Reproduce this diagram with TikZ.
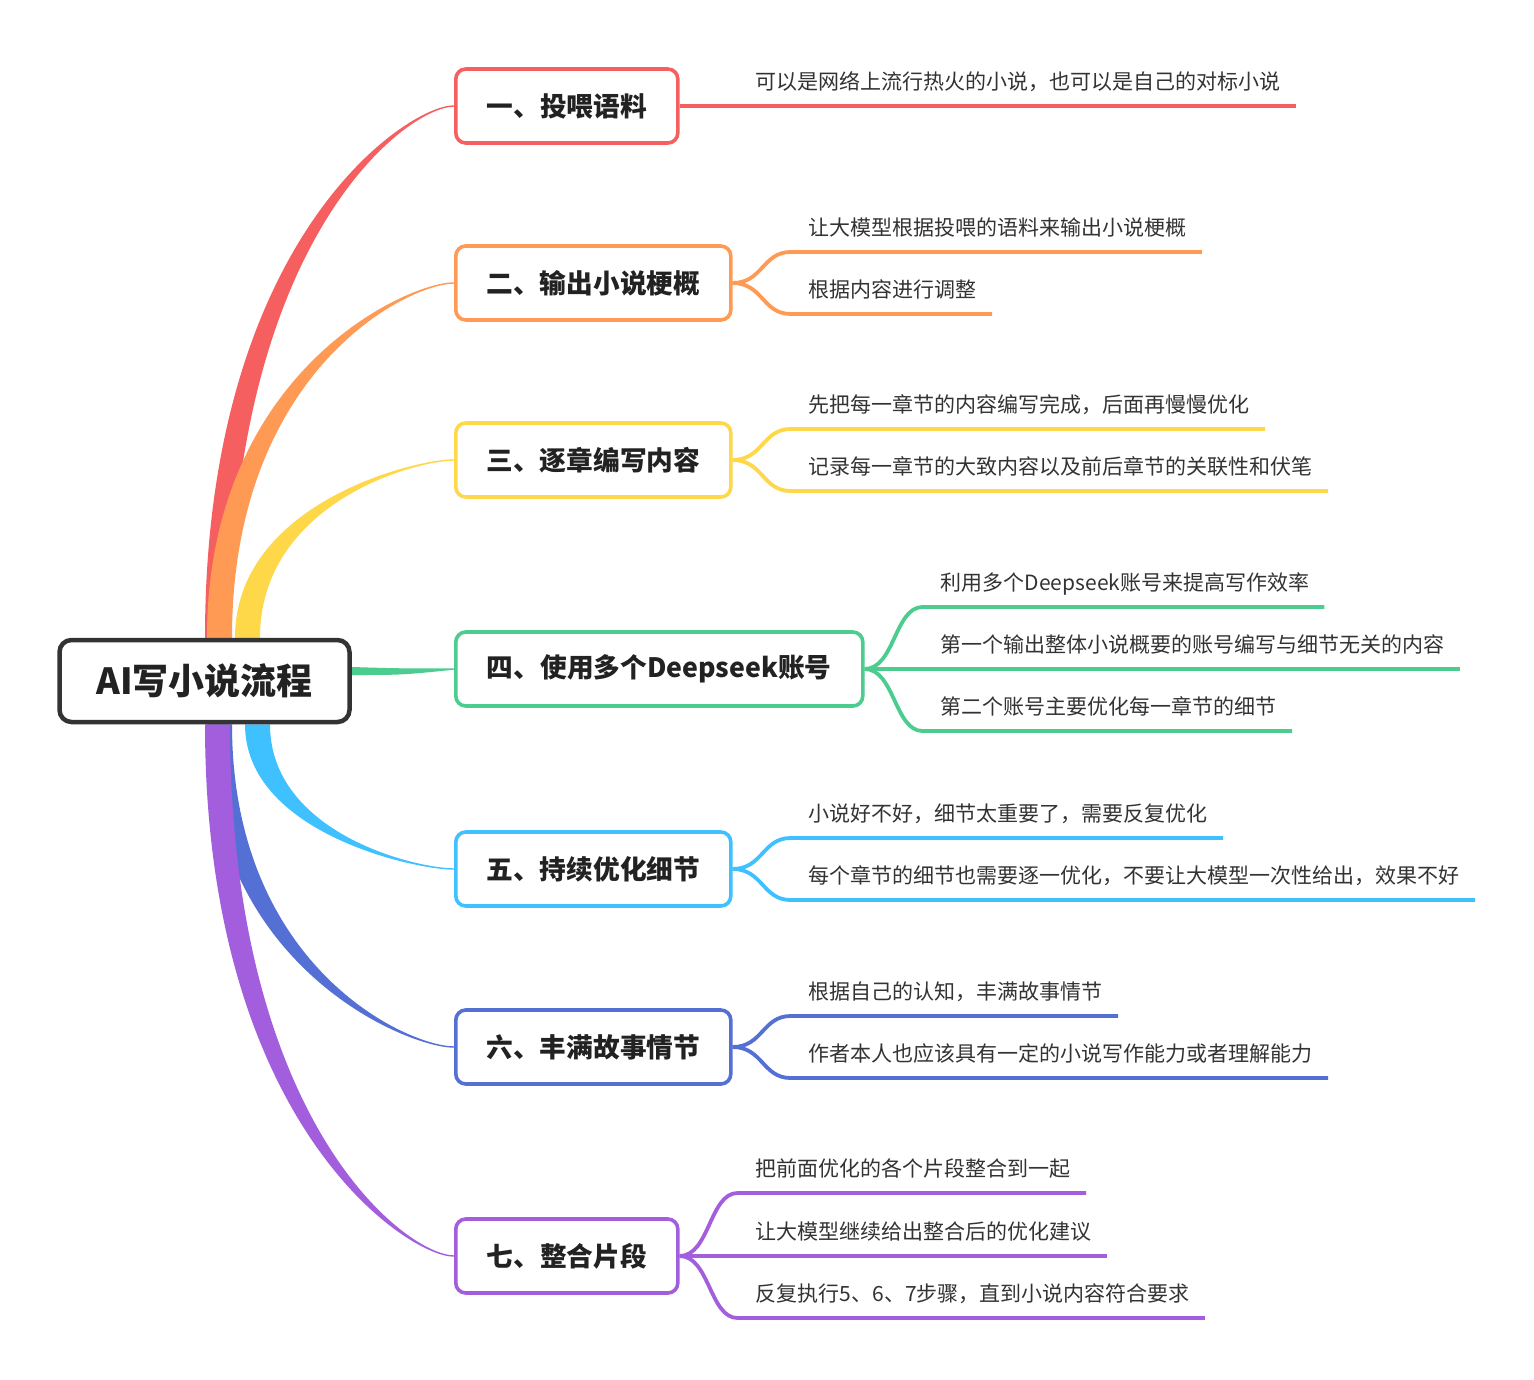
\documentclass[tikz,border=0pt]{standalone}
\usepackage{fontspec}
\setmainfont{Noto Sans CJK SC}
\usetikzlibrary{calc}
\pgfdeclarelayer{bottom}
\pgfdeclarelayer{branches}
\pgfsetlayers{bottom,branches,main}
\definecolor{cred}{HTML}{F65F60}
\definecolor{corange}{HTML}{FF9A55}
\definecolor{cyellow}{HTML}{FFD84A}
\definecolor{cgreen}{HTML}{4CCC8E}
\definecolor{clblue}{HTML}{40C1FF}
\definecolor{cdblue}{HTML}{5570D5}
\definecolor{cpurple}{HTML}{A25EDC}
\definecolor{textdark}{HTML}{222222}
\definecolor{textsub}{HTML}{333333}
\definecolor{rootline}{HTML}{333333}
% tapered branch from a base coordinate to a tip coordinate
\newcommand\taper[4]{%
  \fill[#1] let \p0=(#2), \p1=(#3), \n1={\x1-\x0}, \n2={\y1-\y0}, \n3={sign(\n2)*0.7} in
    (\x0-#4,\y0) .. controls (\x0-#4,\y0+0.75*\n2) and (\x1-0.2*\n1,\y1+\n3) .. (\x1,\y1+\n3)
    -- (\x1,\y1-\n3) .. controls (\x1-0.2*\n1,\y1-\n3) and (\x0+#4,\y0+0.75*\n2) .. (\x0+#4,\y0) -- cycle;}
% sub branch: colour, box node, vertical offset, text, name
\newcommand\subbranch[5]{%
  \coordinate (#5s) at ($(#2.east)+(58,#3)$);
  \node[subtext] (#5) at ($(#2.east)+(76,#3+16.5)$) {#4};
  \draw[subline=#1] (#2.east) .. controls +(30,0) and +(-28,0) .. (#5s) -- ($(#5s -| #5.east)+(15,0)$);}
\begin{document}
\begin{tikzpicture}[x=1pt,y=1pt,
  rootbox/.style={draw=rootline, line width=4.5pt, rounded corners=12pt, fill=white,
    minimum width=290pt, minimum height=82pt, inner sep=0pt,
    font=\fontsize{36}{40}\selectfont\bfseries, text=textdark},
  hbox/.style={draw=#1, line width=3.6pt, rounded corners=10pt, fill=white,
    minimum height=74pt, inner sep=0pt, anchor=west,
    font=\fontsize{26.7}{30}\selectfont\bfseries, text=textdark},
  subtext/.style={font=\fontsize{21}{24}\selectfont, text=textsub, inner sep=0pt, anchor=base west},
  subline/.style={draw=#1, line width=3.8pt}
]
\useasboundingbox (3,0) rectangle (1537,-1379);
\begin{pgfonlayer}{bottom}
\fill[white] (3,0) rectangle (1537,-1379);
\end{pgfonlayer}

\node[rootbox] (root) at (207.5,-681) {AI写小说流程};
\node[hbox=cred, minimum width=222pt] (b1) at (457,-106) {一、投喂语料};
\node[hbox=corange, minimum width=275pt] (b2) at (457,-283) {二、输出小说梗概};
\node[hbox=cyellow, minimum width=275pt] (b3) at (457,-460) {三、逐章编写内容};
\node[hbox=cgreen, minimum width=407pt] (b4) at (457,-669) {四、使用多个Deepseek账号};
\node[hbox=clblue, minimum width=275pt] (b5) at (457,-869) {五、持续优化细节};
\node[hbox=cdblue, minimum width=275pt] (b6) at (457,-1047) {六、丰满故事情节};
\node[hbox=cpurple, minimum width=222pt] (b7) at (457,-1256) {七、整合片段};

\coordinate (r1) at ($(root.north)+(13,0)$);
\coordinate (r2) at ($(root.north)+(15,0)$);
\coordinate (r3) at ($(root.north)+(43,0)$);
\coordinate (r5) at ($(root.south)+(53,0)$);
\coordinate (r6) at ($(root.south)+(15,0)$);
\coordinate (r7) at ($(root.south)+(13,0)$);

\begin{pgfonlayer}{branches}
\taper{cred}{r1}{b1.west}{12.5pt}
\taper{corange}{r2}{b2.west}{12.5pt}
\taper{cyellow}{r3}{b3.west}{12.5pt}
\taper{cdblue}{r6}{b6.west}{12.5pt}
\taper{cpurple}{r7}{b7.west}{12.5pt}
\taper{clblue}{r5}{b5.west}{12.5pt}
\fill[cgreen] ($(root.east)+(0,14)$) .. controls ($(root.east)+(50,12.5)$) .. ($(b4.west)+(0,0.7)$)
  -- ($(b4.west)+(0,-0.7)$) .. controls ($(root.east)+(50,6)$) .. ($(root.east)+(0,6)$) -- cycle;
\end{pgfonlayer}

\subbranch{cred}{b1}{0}{可以是网络上流行热火的小说，也可以是自己的对标小说}{s11}
\subbranch{corange}{b2}{31}{让大模型根据投喂的语料来输出小说梗概}{s21}
\subbranch{corange}{b2}{-31}{根据内容进行调整}{s22}
\subbranch{cyellow}{b3}{31}{先把每一章节的内容编写完成，后面再慢慢优化}{s31}
\subbranch{cyellow}{b3}{-31}{记录每一章节的大致内容以及前后章节的关联性和伏笔}{s32}
\subbranch{cgreen}{b4}{62}{利用多个Deepseek账号来提高写作效率}{s41}
\subbranch{cgreen}{b4}{0}{第一个输出整体小说概要的账号编写与细节无关的内容}{s42}
\subbranch{cgreen}{b4}{-62}{第二个账号主要优化每一章节的细节}{s43}
\subbranch{clblue}{b5}{31}{小说好不好，细节太重要了，需要反复优化}{s51}
\subbranch{clblue}{b5}{-31}{每个章节的细节也需要逐一优化，不要让大模型一次性给出，效果不好}{s52}
\subbranch{cdblue}{b6}{31}{根据自己的认知，丰满故事情节}{s61}
\subbranch{cdblue}{b6}{-31}{作者本人也应该具有一定的小说写作能力或者理解能力}{s62}
\subbranch{cpurple}{b7}{63}{把前面优化的各个片段整合到一起}{s71}
\subbranch{cpurple}{b7}{0}{让大模型继续给出整合后的优化建议}{s72}
\subbranch{cpurple}{b7}{-62}{反复执行5、6、7步骤，直到小说内容符合要求}{s73}
\end{tikzpicture}
\end{document}
